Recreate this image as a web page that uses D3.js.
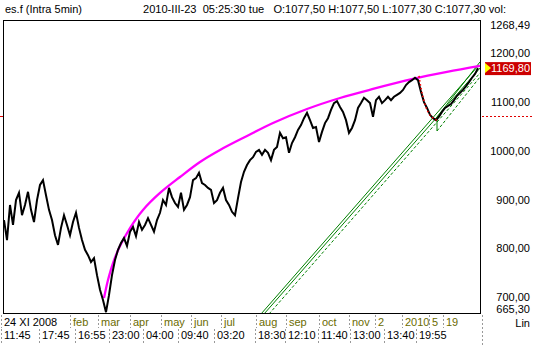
<!DOCTYPE html>
<html><head><meta charset="utf-8">
<script src="https://cdn.jsdelivr.net/npm/d3@7"></script>
<style>
body{margin:0;background:#fff;overflow:hidden}
text{font-family:"Liberation Sans",Arial,sans-serif;font-size:11px}
</style>
</head><body>
<svg id="c" width="533" height="345"></svg>
<script>
// ---- data ----
const barStep = 3; // bars between consecutive close values
const closeValues = [
858,817,889,848,899,914,868,889,916,879,854,899,930,940,909,879,858,827,807,842,
868,848,827,854,873,842,817,797,786,772,780,745,715,694,669,704,745,776,797,811,
821,805,834,844,825,854,838,848,862,848,834,858,873,899,889,924,905,893,885,914,
879,889,905,940,944,955,934,930,924,920,893,899,914,924,899,889,875,868,903,936,
957,971,981,987,998,1002,992,1002,996,981,1002,1008,1037,1026,1028,996,1016,1028,1043,1053,
1067,1078,1063,1047,1049,1018,1039,1057,1067,1084,1098,1102,1090,1080,1063,1037,1047,1063,1088,1098,
1109,1104,1098,1070,1104,1111,1098,1104,1111,1104,1111,1115,1119,1125,1135,1141,1145,1150,1145,1121,
1100,1088,1074,1067,1063,1070,1080,1088,1092,1096,1104,1113,1119,1125,1133,1141,1150,1158,1169.8
];
const arcBars   = [100, 104, 109, 116, 126, 139, 156, 176, 196, 216, 243, 269, 303, 336, 369, 409, 443, 476];
const arcValues = [698.1,735.0,769.9,804.8,841.7,878.7,913.6,946.4,977.2,1001.8,1030.5,1057.2,1085.9,1108.5,1127.0,1147.5,1161.9,1174.2];
// trend channel lines: start bar, start value, end bar, end value
const chanStartBars  = [257, 260, 265, 433, 433, 433];
const chanStartVals  = [665.3, 665.3, 665.3, 1069.5, 1040.8, 1069.5];
const chanEndBars    = [475, 477, 476, 476, 476, 433];
const chanEndVals    = [1176.2, 1172.1, 1159.8, 1182.4, 1151.6, 1040.8];
const chanDashed     = [false, false, true, false, true, false];
const redArcBars   = [415, 417, 420, 424, 429, 435];
const redArcValues = [1153.7, 1129.0, 1102.4, 1079.8, 1067.5, 1061.3];
const yTicks = [700, 800, 900, 1000, 1100, 1200];
const yMin = 665.30, yMax = 1268.49;
const lastPrice = 1169.80;
const cursorPrice = 1072;
const barMax = 475;
const row1Bars   = [-3, 66, 94, 126, 157, 187, 217, 252, 282, 315, 345, 371, 398, 425, 439];
const row1Labels = ["24 XI 2008","feb","mar","apr","may","jun","jul","aug","sep","oct","nov","2","2010","5","19"];
const row2Bars   = [-3, 35, 71, 105, 139, 174, 210, 251, 281, 314, 346, 380, 412];
const row2Labels = ["11:45","17:45","16:55","23:00","04:00","09:40","03:20","18:30","12:10","11:40","13:00","13:40","19:55"];
const titleLeft = "es.f (Intra 5min)";
const titleRight = "2010-III-23  05:25:30 tue   O:1077,50 H:1077,50 L:1077,30 C:1077,30 vol:";

// ---- drawing ----
const svg = d3.select("#c");
const L = 3, T = 20, R = 481, B = 314;
const x = d3.scaleLinear().domain([0, barMax]).range([L + 1, R - 2]);
const y = d3.scaleLinear().domain([yMin, yMax]).range([B, T]);
const fmt = v => d3.format(".2f")(v).replace(".", ",");

svg.append("defs").append("clipPath").attr("id","clip")
  .append("rect").attr("x", L).attr("y", T).attr("width", R - L).attr("height", B - T);

// header
svg.append("text").attr("x", 5).attr("y", 13).text(titleLeft);
svg.append("text").attr("x", 143).attr("y", 13).attr("textLength", 363)
  .attr("lengthAdjust", "spacingAndGlyphs").style("white-space", "pre").text(titleRight);

const plot = svg.append("g").attr("clip-path", "url(#clip)");

// green channel lines
chanStartBars.forEach((b, i) => {
  plot.append("line")
    .attr("x1", x(b)).attr("y1", y(chanStartVals[i]))
    .attr("x2", x(chanEndBars[i])).attr("y2", y(chanEndVals[i]))
    .attr("stroke", "#008000").attr("stroke-width", 1)
    .attr("stroke-dasharray", chanDashed[i] ? "3,2" : null);
});

// magenta arc
plot.append("path").datum(arcBars.map((b, i) => [b, arcValues[i]]))
  .attr("d", d3.line().x(d => x(d[0])).y(d => y(d[1])).curve(d3.curveCatmullRom))
  .attr("fill", "none").attr("stroke", "#ff00ff").attr("stroke-width", 2.3);

// price line
plot.append("path").datum(closeValues.map((v, i) => [i * barStep, v]))
  .attr("d", d3.line().x(d => x(d[0])).y(d => y(d[1])))
  .attr("fill", "none").attr("stroke", "#000").attr("stroke-width", 2)
  .attr("stroke-linejoin", "miter");

// red dotted arc
plot.append("path").datum(redArcBars.map((b, i) => [b, redArcValues[i]]))
  .attr("d", d3.line().x(d => x(d[0])).y(d => y(d[1])).curve(d3.curveMonotoneX))
  .attr("fill", "none").attr("stroke", "#ff0000").attr("stroke-width", 1.5)
  .attr("stroke-dasharray", "1.5,2.5");

// frame
svg.append("rect").attr("x", L + 0.5).attr("y", T + 0.5).attr("width", R - L - 1).attr("height", B - T - 1)
  .attr("fill", "none").attr("stroke", "#000");

// y axis labels
const yAxisG = svg.append("g");
yTicks.forEach(v => {
  yAxisG.append("text").attr("x", 530).attr("y", y(v) + 4).attr("text-anchor", "end").text(fmt(v));
});
yAxisG.append("text").attr("x", 530).attr("y", y(yMax) + 9).attr("text-anchor", "end").text(fmt(yMax));
yAxisG.append("text").attr("x", 530).attr("y", y(yMin) - 1).attr("text-anchor", "end").text(fmt(yMin));
yAxisG.append("text").attr("x", 530).attr("y", y(yMin) + 13).attr("text-anchor", "end").text("Lin");

// cursor price dashed line
const cy = Math.round(y(cursorPrice)) + 0.5;
svg.append("line").attr("x1", R + 1).attr("x2", 533).attr("y1", cy).attr("y2", cy)
  .attr("stroke", "#e00000").attr("stroke-dasharray", "2,2");
svg.append("line").attr("x1", 0).attr("x2", L).attr("y1", cy).attr("y2", cy)
  .attr("stroke", "#e00000");

// last price marker
const ly = y(lastPrice);
svg.append("rect").attr("x", 485).attr("y", ly - 6).attr("width", 46).attr("height", 13).attr("fill", "#cc0000");
svg.append("path").attr("d", `M485,${ly - 5}L491,${ly}L485,${ly + 5}Z`).attr("fill", "#ffff00");
svg.append("text").attr("x", 530).attr("y", ly + 4).attr("text-anchor", "end").attr("fill", "#fff").text(fmt(lastPrice));

// x axis (two rows)
const xa = svg.append("g");
row1Bars.forEach((b, i) => {
  const sx = Math.round(x(b)) + 0.5;
  xa.append("line").attr("x1", sx).attr("x2", sx).attr("y1", 315).attr("y2", 328)
    .attr("stroke", "#999").attr("stroke-dasharray", "2,2");
  xa.append("text").attr("x", sx + 2.5).attr("y", 326)
    .attr("fill", i === 0 ? "#000" : "#6b6b00").text(row1Labels[i]);
});
row2Bars.forEach((b, i) => {
  const sx = Math.round(x(b)) + 0.5;
  xa.append("line").attr("x1", sx).attr("x2", sx).attr("y1", 329).attr("y2", 345)
    .attr("stroke", "#999").attr("stroke-dasharray", "2,2");
  xa.append("text").attr("x", sx + 2.5).attr("y", 339).attr("fill", "#000").text(row2Labels[i]);
});
const ex = Math.round(x(barMax)) + 3.5;
xa.append("line").attr("x1", ex).attr("x2", ex).attr("y1", 315).attr("y2", 345)
  .attr("stroke", "#999").attr("stroke-dasharray", "2,2");
</script>
</body></html>
